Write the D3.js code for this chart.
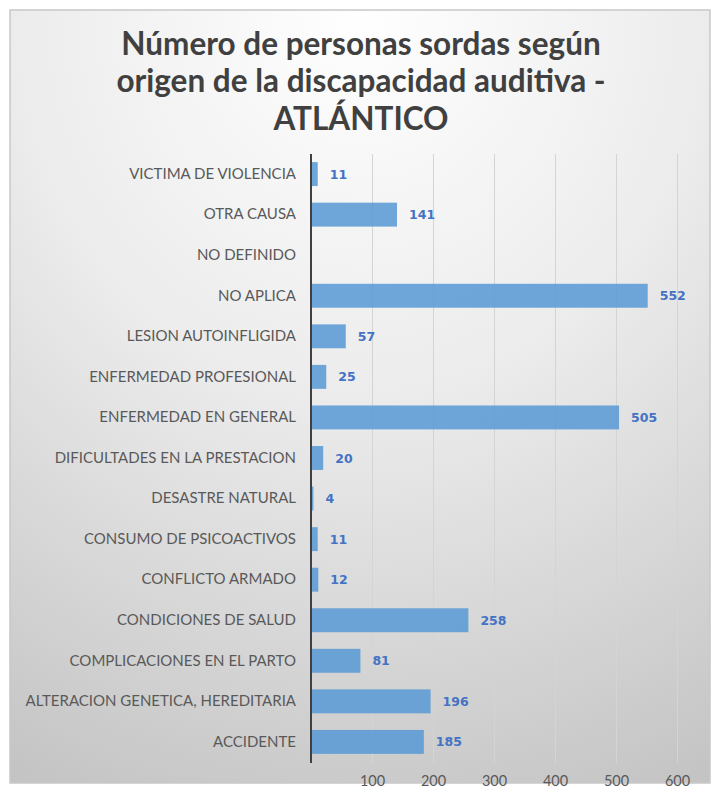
<!DOCTYPE html>
<html>
<head>
  <meta charset="utf-8">
  <script src="https://d3js.org/d3.v7.min.js"></script>
  <style>
    body { margin: 0; background: #fff; }
    .grid line { stroke: #d4d4d4; stroke-width: 1; }
    .grid path { display: none; }
    .x-axis path, .x-axis line { display: none; }
    .x-axis text { font-family: Lato, sans-serif; font-size: 14.5px; fill: #595959; }
    .y-axis path { display: none; }
    .y-axis line { display: none; }
    .y-axis text { font-family: Lato, sans-serif; font-size: 15px; fill: #595959; }
    .label { font-family: "DejaVu Sans", sans-serif; font-weight: bold; font-size: 12.5px; fill: #4472c4; }
    .title { font-family: Lato, sans-serif; font-weight: bold; font-size: 31.5px; fill: #404040; }
  </style>
</head>
<body>
  <div id="chart"></div>
  <script>
    // datos (de arriba hacia abajo)
    const categorias = [
      "VICTIMA DE VIOLENCIA", "OTRA CAUSA", "NO DEFINIDO", "NO APLICA",
      "LESION AUTOINFLIGIDA", "ENFERMEDAD PROFESIONAL", "ENFERMEDAD EN GENERAL",
      "DIFICULTADES EN LA PRESTACION", "DESASTRE NATURAL", "CONSUMO DE PSICOACTIVOS",
      "CONFLICTO ARMADO", "CONDICIONES DE SALUD", "COMPLICACIONES EN EL PARTO",
      "ALTERACION GENETICA, HEREDITARIA", "ACCIDENTE"
    ];
    const valores = [11, 141, null, 552, 57, 25, 505, 20, 4, 11, 12, 258, 81, 196, 185];
    const ticks = [100, 200, 300, 400, 500, 600];
    const tituloLineas = ["Número de personas sordas según", "origen de la discapacidad auditiva -", "ATLÁNTICO"];

    const width = 720, height = 793;
    const margin = { top: 154, left: 311, right: 44, bottom: 31 };

    const svg = d3.select("#chart").append("svg")
      .attr("width", width).attr("height", height);

    // fondo con degradado
    const defs = svg.append("defs");
    const grad = defs.append("radialGradient").attr("id", "bg")
      .attr("cx", "50%").attr("cy", "0%").attr("r", "110%");
    grad.append("stop").attr("offset", "0%").attr("stop-color", "#ffffff");
    grad.append("stop").attr("offset", "45%").attr("stop-color", "#ececec");
    grad.append("stop").attr("offset", "100%").attr("stop-color", "#c4c4c4");

    svg.append("rect")
      .attr("x", 10).attr("y", 10).attr("width", 700).attr("height", 773)
      .attr("fill", "url(#bg)").attr("stroke", "#c8c8c8").attr("stroke-width", 1.5);

    // título
    const baseTitulo = [55, 92, 130];
    svg.append("text").attr("class", "title")
      .attr("text-anchor", "middle")
      .selectAll("tspan").data(tituloLineas).join("tspan")
      .attr("x", 361)
      .attr("y", (d, i) => baseTitulo[i])
      .text(d => d);

    const x = d3.scaleLinear().domain([0, 600])
      .range([margin.left, margin.left + 366]);
    const y = d3.scaleBand().domain(categorias)
      .range([margin.top, height - margin.bottom - 0])
      .paddingInner(0.41).paddingOuter(0.2);

    const plotBottom = 763;

    // cuadrícula
    svg.append("g").attr("class", "grid")
      .attr("transform", `translate(0,${plotBottom})`)
      .call(d3.axisBottom(x).tickValues(ticks).tickSize(-(plotBottom - margin.top)).tickFormat(""));

    // barras
    svg.append("g").selectAll("rect")
      .data(valores.map((v, i) => ({ c: categorias[i], v })).filter(d => d.v != null))
      .join("rect")
      .attr("x", x(0))
      .attr("y", d => y(d.c))
      .attr("width", d => x(d.v) - x(0))
      .attr("height", y.bandwidth())
      .attr("fill", "#5b9bd5").attr("fill-opacity", 0.88);

    // etiquetas de datos
    svg.append("g").selectAll("text")
      .data(valores.map((v, i) => ({ c: categorias[i], v })).filter(d => d.v != null))
      .join("text").attr("class", "label")
      .attr("x", d => x(d.v) + 12)
      .attr("y", d => y(d.c) + y.bandwidth() / 2)
      .attr("dy", "0.36em")
      .text(d => d.v);

    // eje x
    svg.append("g").attr("class", "x-axis")
      .attr("transform", `translate(0,${plotBottom})`)
      .call(d3.axisBottom(x).tickValues(ticks).tickSize(0).tickPadding(13));

    // eje y
    svg.append("g").attr("class", "y-axis")
      .attr("transform", `translate(${x(0)},0)`)
      .call(d3.axisLeft(y).tickSize(0).tickPadding(15));

    svg.append("line")
      .attr("x1", x(0)).attr("x2", x(0))
      .attr("y1", margin.top).attr("y2", plotBottom)
      .attr("stroke", "#404040").attr("stroke-width", 2);
  </script>
</body>
</html>
